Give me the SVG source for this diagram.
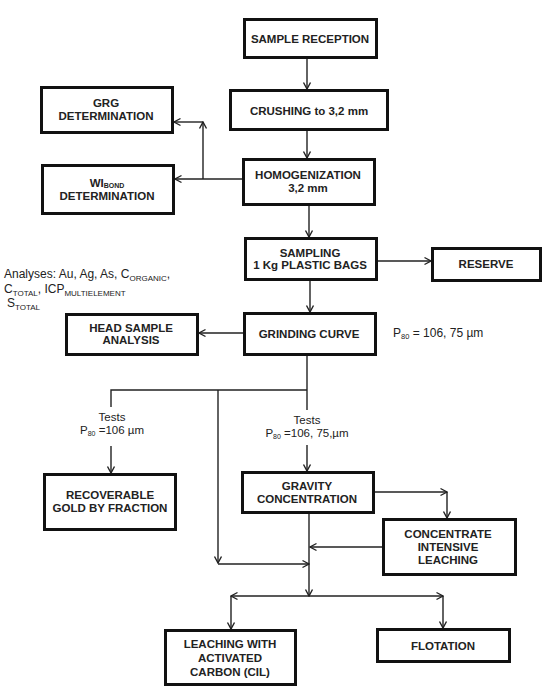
<svg xmlns="http://www.w3.org/2000/svg" width="550" height="695" viewBox="0 0 550 695">
<defs>
<marker id="arr" markerUnits="userSpaceOnUse" viewBox="0 0 10 10" refX="9" refY="5" markerWidth="10" markerHeight="10" orient="auto">
<path d="M2.5,1.5 L9,5 L2.5,8.5" fill="none" stroke="#222" stroke-width="1.4"/>
</marker>
</defs>
<style>
.box{fill:#fff;stroke:#111;stroke-width:3}
.bt{font-family:"Liberation Sans",Arial,sans-serif;font-weight:bold;font-size:11.5px;fill:#222;text-anchor:middle}
.nt{font-family:"Liberation Sans",Arial,sans-serif;font-size:12px;fill:#222}
.tt{font-family:"Liberation Sans",Arial,sans-serif;font-size:11.5px;fill:#222;text-anchor:middle}
.c{fill:none;stroke:#222;stroke-width:1.4}
.a{marker-end:url(#arr)}
</style>
<rect width="550" height="695" fill="#fff"/>
<g id="connectors">
<line class="c a" x1="307" y1="59" x2="307" y2="89"/>
<line class="c a" x1="307" y1="131" x2="307" y2="158"/>
<line class="c a" x1="242" y1="179" x2="175" y2="179"/>
<line class="c a" x1="203" y1="179" x2="203" y2="122"/>
<line class="c a" x1="203" y1="122" x2="174" y2="122"/>
<line class="c a" x1="309" y1="206" x2="309" y2="237"/>
<line class="c a" x1="378" y1="261" x2="431" y2="261"/>
<line class="c a" x1="310" y1="281" x2="310" y2="312"/>
<line class="c a" x1="243" y1="333" x2="199" y2="333"/>
<line class="c" x1="307" y1="356" x2="307" y2="410"/>
<polyline class="c" points="111,407 111,390 307,390"/>
<line class="c a" x1="218" y1="390" x2="218" y2="563"/>
<line class="c a" x1="111" y1="446" x2="111" y2="473"/>
<line class="c a" x1="307" y1="445" x2="307" y2="471"/>
<line class="c a" x1="375" y1="492" x2="447" y2="492"/>
<line class="c a" x1="447" y1="492" x2="447" y2="518"/>
<line class="c a" x1="382" y1="547" x2="310" y2="547"/>
<line class="c a" x1="218" y1="564" x2="309" y2="564"/>
<line class="c a" x1="309" y1="514" x2="309" y2="596"/>
<line class="c a" x1="309" y1="596" x2="231" y2="596"/>
<line class="c a" x1="309" y1="596" x2="443" y2="596"/>
<line class="c a" x1="231" y1="596" x2="231" y2="629"/>
<line class="c a" x1="443" y1="596" x2="443" y2="628"/>
</g>
<g id="sample-reception">
<rect class="box" x="244.5" y="19.5" width="132" height="38"/>
<text class="bt" x="310" y="43">SAMPLE RECEPTION</text>
</g>
<g id="crushing">
<rect class="box" x="230.5" y="90.5" width="157" height="39"/>
<text class="bt" x="309" y="115">CRUSHING to 3,2 mm</text>
</g>
<g id="homogenization">
<rect class="box" x="243.5" y="159.5" width="131" height="45"/>
<text class="bt" x="308" y="179">HOMOGENIZATION</text>
<text class="bt" x="308" y="192">3,2 mm</text>
</g>
<g id="grg">
<rect class="box" x="41.5" y="87.5" width="131" height="45"/>
<text class="bt" x="106" y="107">GRG</text>
<text class="bt" x="106" y="120">DETERMINATION</text>
</g>
<g id="wibond">
<rect class="box" x="42.5" y="165.5" width="131" height="48"/>
<text class="bt" x="107" y="186.5">WI<tspan font-size="7" dy="1.5">BOND</tspan></text>
<text class="bt" x="107" y="200">DETERMINATION</text>
</g>
<g id="sampling">
<rect class="box" x="245.5" y="238.5" width="131" height="41"/>
<text class="bt" x="310" y="257">SAMPLING</text>
<text class="bt" x="310" y="269">1 Kg PLASTIC BAGS</text>
</g>
<g id="reserve">
<rect class="box" x="432.5" y="248.5" width="108" height="32"/>
<text class="bt" x="486" y="268">RESERVE</text>
</g>
<g id="analyses">
<text class="nt" font-size="13" x="4" y="278">Analyses: Au, Ag, As, C<tspan font-size="8" dy="3">ORGANIC</tspan><tspan dy="-3">,</tspan></text>
<text class="nt" font-size="13" x="4" y="293">C<tspan font-size="8" dy="3">TOTAL</tspan><tspan dy="-3">, ICP</tspan><tspan font-size="8" dy="3">MULTIELEMENT</tspan></text>
<text class="nt" font-size="13" x="7" y="307">S<tspan font-size="8" dy="3">TOTAL</tspan></text>
</g>
<g id="grinding">
<rect class="box" x="244.5" y="313.5" width="131" height="41"/>
<text class="bt" x="309" y="338">GRINDING CURVE</text>
<text class="nt" x="393" y="337">P<tspan font-size="7.5" dy="2">80</tspan><tspan dy="-2"> = 106, 75 µm</tspan></text>
</g>
<g id="head-sample">
<rect class="box" x="66.5" y="314.5" width="131" height="40"/>
<text class="bt" x="131" y="332">HEAD SAMPLE</text>
<text class="bt" x="131" y="344">ANALYSIS</text>
</g>
<g id="tests-left">
<text class="tt" x="112" y="421">Tests</text>
<text class="tt" x="112" y="434">P<tspan font-size="7" dy="1.5">80</tspan><tspan dy="-1.5"> =106 µm</tspan></text>
</g>
<g id="tests-right">
<text class="tt" x="307" y="424">Tests</text>
<text class="tt" x="307" y="437">P<tspan font-size="7" dy="1.5">80</tspan><tspan dy="-1.5"> =106, 75,µm</tspan></text>
</g>
<g id="recoverable">
<rect class="box" x="44.5" y="474.5" width="131" height="55"/>
<text class="bt" x="110" y="499">RECOVERABLE</text>
<text class="bt" x="110" y="512">GOLD BY FRACTION</text>
</g>
<g id="gravity">
<rect class="box" x="242.5" y="472.5" width="131" height="40"/>
<text class="bt" x="307" y="490">GRAVITY</text>
<text class="bt" x="307" y="503">CONCENTRATION</text>
</g>
<g id="concentrate">
<rect class="box" x="383.5" y="519.5" width="132" height="55"/>
<text class="bt" x="448" y="538">CONCENTRATE</text>
<text class="bt" x="448" y="551">INTENSIVE</text>
<text class="bt" x="448" y="564">LEACHING</text>
</g>
<g id="cil">
<rect class="box" x="165.5" y="630.5" width="130" height="54"/>
<text class="bt" x="230" y="648">LEACHING WITH</text>
<text class="bt" x="230" y="662">ACTIVATED</text>
<text class="bt" x="230" y="676">CARBON (CIL)</text>
</g>
<g id="flotation">
<rect class="box" x="377.5" y="629.5" width="132" height="32"/>
<text class="bt" x="443" y="650">FLOTATION</text>
</g>
</svg>
